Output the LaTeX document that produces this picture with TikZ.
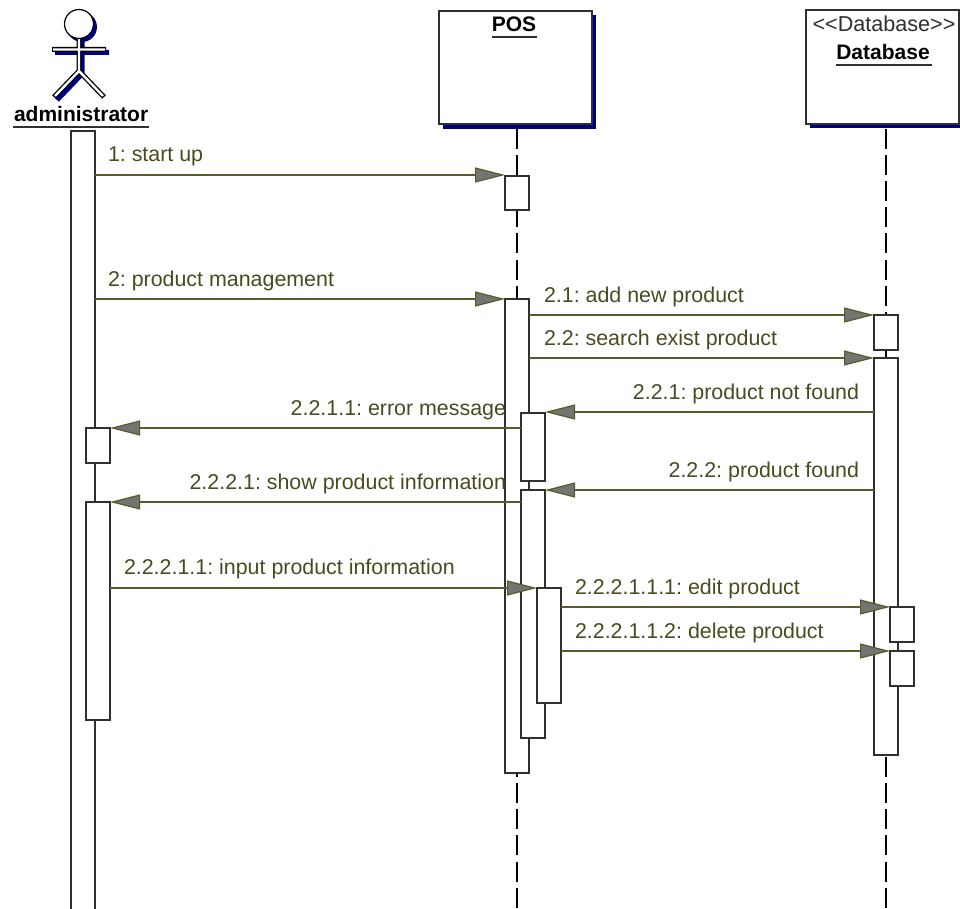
\documentclass[tikz,border=0pt]{standalone}
\usepackage{fontspec}
\setmainfont{Liberation Sans}
\usetikzlibrary{arrows.meta}
\definecolor{msgcol}{HTML}{5A5A2A}
\definecolor{txtcol}{HTML}{4A4A20}
\definecolor{headcol}{HTML}{747474}
\definecolor{navyc}{HTML}{000080}
\definecolor{edge}{HTML}{303030}
\tikzset{
  act/.style={draw=edge,fill=white,line width=1.4pt,minimum width=24pt,inner sep=0pt,outer sep=0pt,anchor=north},
  msg/.style={draw=msgcol,line width=1.2pt,-{Triangle[length=30pt,width=15pt,fill=headcol,line width=1.2pt,color=msgcol]}},
  msglabel/.style={text=txtcol,font=\fontsize{21.4}{24}\selectfont,inner sep=0pt,outer sep=0pt},
  life/.style={draw=black,line width=1.4pt,dash pattern=on 20pt off 6.17pt,dash phase=21.37pt},
  obj/.style={draw=edge,fill=white,line width=1.4pt,inner sep=0pt,outer sep=0pt,anchor=north west},
  objshadow/.style={fill=navyc,draw=none,inner sep=0pt,outer sep=0pt,anchor=north west},
  objname/.style={text=black,font=\bfseries\fontsize{21}{24}\selectfont,inner sep=0pt,outer sep=0pt,anchor=base},
  uline/.style={draw=edge,line width=2pt},
  limb/.style={draw=black,line width=5pt},
  limbin/.style={draw=white,line width=2.4pt},
  limbs/.style={draw=navyc,line width=5pt},
}
\begin{document}
\frenchspacing
\begin{tikzpicture}[x=1pt,y=-1pt]
\useasboundingbox (0,0) rectangle (960,909);
% actor
\begin{scope}[shift={(3,3)}]
  \fill[navyc] (79,24) circle (15);
  \draw[limbs] (79,38) -- (79,71) (52,49.5) -- (106,49.5) (79,71) -- (54,97);
\end{scope}
\draw[limb] (79,38) -- (79,71) (52,49.5) -- (106,49.5) (79,71) -- (54,97) (79,71) -- (104,97);
\draw[limbin] (79,38) -- (79,71) (53,49.5) -- (105,49.5) (79,71) -- (55,96) (79,71) -- (103,96);
\draw[draw=black,fill=white,line width=1.2pt] (79,24) circle (14.5);
\node[objname,anchor=base west] (admname) at (14,122) {administrator};
\coordinate (ulA) at (13,127);
\coordinate (ulB) at (149,127);
\draw[uline] (ulA) -- (ulB);
% objects
\node[objshadow,minimum width=153pt,minimum height=114pt] at (443,15) (posS) {};
\node[obj,minimum width=153pt,minimum height=113pt] at (439,11) (pos) {};
\node[objname] (posname) at (514,32) {POS};
\coordinate (ulC) at (492,37);
\coordinate (ulD) at (537,37);
\draw[uline] (ulC) -- (ulD);
\node[objshadow,minimum width=170pt,minimum height=114pt] at (810,14) (dbS) {};
\node[obj,minimum width=153pt,minimum height=114pt] at (806,10) (db) {};
\node[text=edge,font=\fontsize{21.6}{24}\selectfont,inner sep=0pt,anchor=base] (dbst) at (884,32) {<{}<Database>{}>};
\node[objname] (dbname) at (883,60) {Database};
\coordinate (ulE) at (836,65);
\coordinate (ulF) at (932,65);
\draw[uline] (ulE) -- (ulF);
% lifelines
\coordinate (posEnd) at (517,909);
\coordinate (dbEnd) at (886,909);
\draw[life] (pos.south -| posEnd) -- (posEnd);
\draw[life] (db.south -| dbEnd) -- (dbEnd);
% activations
\node[act,minimum height=800pt] (a0) at (83,131) {};
\node[act,minimum height=35pt] (a1) at (98,428) {};
\node[act,minimum height=218pt] (a2) at (98,502) {};
\node[act,minimum height=34pt] (p1) at (517,176) {};
\node[act,minimum height=474pt] (p2) at (517,299) {};
\node[act,minimum height=68pt] (p3) at (533,413) {};
\node[act,minimum height=248pt] (p4) at (533,490) {};
\node[act,minimum height=115pt] (p5) at (549,588) {};
\node[act,minimum height=35pt] (d1) at (886,315) {};
\node[act,minimum height=397pt] (d2) at (886,358) {};
\node[act,minimum height=35pt] (d3) at (902,607) {};
\node[act,minimum height=35pt] (d4) at (902,651) {};
% message rows
\coordinate (m1) at (0,175);
\coordinate (m2) at (0,299);
\coordinate (m3) at (0,315);
\coordinate (m4) at (0,358);
\coordinate (m5) at (0,412);
\coordinate (m6) at (0,428);
\coordinate (m7) at (0,490);
\coordinate (m8) at (0,502);
\coordinate (m9) at (0,588);
\coordinate (m10) at (0,607);
\coordinate (m11) at (0,651);
\draw[msg] (a0.east |- m1) -- (p1.west |- m1);
\draw[msg] (a0.east |- m2) -- (p2.west |- m2);
\draw[msg] (p2.east |- m3) -- (d1.west |- m3);
\draw[msg] (p2.east |- m4) -- (d2.west |- m4);
\draw[msg] (d2.west |- m5) -- (p3.east |- m5);
\draw[msg] (p3.west |- m6) -- (a1.east |- m6);
\draw[msg] (d2.west |- m7) -- (p4.east |- m7);
\draw[msg] (p4.west |- m8) -- (a2.east |- m8);
\draw[msg] (a2.east |- m9) -- (p5.west |- m9);
\draw[msg] (p5.east |- m10) -- (d3.west |- m10);
\draw[msg] (p5.east |- m11) -- (d4.west |- m11);
% labels
\node[msglabel,anchor=base west] (t1) at (108,162) {1: start up};
\node[msglabel,anchor=base west] (t2) at (108,286) {2: product management};
\node[msglabel,anchor=base west] (t3) at (544,302) {2.1: add new product};
\node[msglabel,anchor=base west] (t4) at (544,345) {2.2: search exist product};
\node[msglabel,anchor=base east] (t5) at (859,399) {2.2.1: product not found};
\node[msglabel,anchor=base east] (t6) at (506,415) {2.2.1.1: error message};
\node[msglabel,anchor=base east] (t7) at (859,477) {2.2.2: product found};
\node[msglabel,anchor=base east] (t8) at (506,489) {2.2.2.1: show product information};
\node[msglabel,anchor=base west] (t9) at (124,574) {2.2.2.1.1: input product information};
\node[msglabel,anchor=base west] (t10) at (575,594) {2.2.2.1.1.1: edit product};
\node[msglabel,anchor=base west] (t11) at (575,638) {2.2.2.1.1.2: delete product};
\end{tikzpicture}
\end{document}
